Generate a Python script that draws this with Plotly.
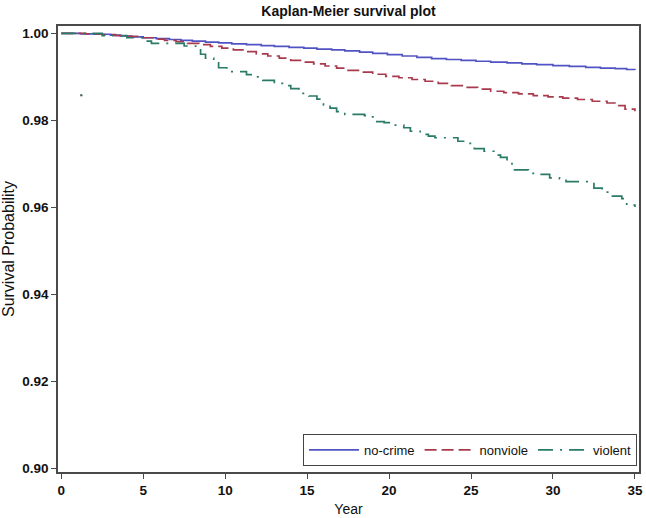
import plotly.graph_objects as go

# ---- data ----
nocrime_t = [0, 1.2, 2.0, 3.0, 3.6, 4.3, 5.0, 5.8, 6.6, 7.3, 8.0, 8.8, 9.6, 10.4, 11.3, 12.2, 13.0, 13.9, 14.8,
             15.6, 16.5, 17.3, 18.2, 19.0, 19.9, 20.8, 21.7, 22.6, 23.5, 24.4, 25.3, 26.2, 27.2, 28.1, 29.0,
             30.0, 31.0, 32.0, 32.9, 33.8, 34.5, 35.0]
nocrime_s = [1.0, 0.9999, 0.9998, 0.9996, 0.9994, 0.9992, 0.9990, 0.9988, 0.9986, 0.9984, 0.9982, 0.9980,
             0.9978, 0.9976, 0.9974, 0.9972, 0.9970, 0.9968, 0.9966, 0.9964, 0.9962, 0.9960, 0.9957, 0.9954,
             0.9951, 0.9948, 0.9945, 0.9942, 0.9940, 0.9938, 0.9936, 0.9934, 0.9932, 0.9930, 0.9928, 0.9926,
             0.9924, 0.9922, 0.9920, 0.9919, 0.9917, 0.9916]

nonviol_t = [0, 1.5, 2.5, 3.3, 4.0, 4.8, 5.6, 6.3, 7.0, 7.7, 8.4, 9.1, 9.8, 10.5, 11.2, 11.9, 12.6, 13.3, 14.0,
             14.7, 15.4, 16.1, 16.8, 17.5, 18.3, 19.0, 19.8, 20.6, 21.4, 22.2, 23.0, 23.8, 24.6, 25.4, 26.2,
             27.0, 27.9, 28.8, 29.7, 30.6, 31.5, 32.4, 33.3, 33.9, 34.4, 35.0]
nonviol_s = [1.0, 0.9999, 0.9997, 0.9995, 0.9993, 0.9990, 0.9987, 0.9984, 0.9981, 0.9977, 0.9974, 0.9970,
             0.9966, 0.9962, 0.9958, 0.9953, 0.9948, 0.9943, 0.9938, 0.9934, 0.9930, 0.9925, 0.9920, 0.9915,
             0.9911, 0.9906, 0.9901, 0.9898, 0.9894, 0.9890, 0.9885, 0.9880, 0.9876, 0.9872, 0.9867, 0.9864,
             0.9861, 0.9857, 0.9854, 0.9851, 0.9848, 0.9844, 0.9840, 0.9834, 0.9826, 0.9821]

violent_t = [0, 2.5, 4.0, 5.0, 5.5, 7.5, 8.2, 8.5, 8.8, 9.3, 9.6, 10.1, 11.3, 11.8, 12.3, 13.0, 13.6, 14.0,
             14.5, 15.1, 15.6, 16.0, 16.4, 16.8, 17.3, 18.5, 18.8, 19.2, 19.7, 20.3, 20.9, 21.3, 21.9, 22.4,
             22.8, 24.2, 24.7, 25.2, 25.8, 26.4, 26.8, 27.2, 27.5, 28.5, 29.2, 29.8, 30.4, 30.8, 32.5, 33.0,
             33.5, 34.2, 34.5, 35.0]
violent_s = [1.0, 0.9995, 0.9990, 0.9982, 0.9977, 0.9971, 0.9964, 0.9952, 0.9943, 0.9935, 0.9921, 0.9912,
             0.9905, 0.9900, 0.9892, 0.9885, 0.9880, 0.9873, 0.9862, 0.9856, 0.9849, 0.9835, 0.9828, 0.9820,
             0.9814, 0.9811, 0.9808, 0.9797, 0.9795, 0.9789, 0.9783, 0.9775, 0.9768, 0.9764, 0.9760, 0.9752,
             0.9747, 0.9735, 0.9729, 0.9720, 0.9715, 0.9705, 0.9686, 0.9678, 0.9676, 0.9668, 0.9666, 0.9659,
             0.9644, 0.9635, 0.9626, 0.9620, 0.9605, 0.9601]

stray_t = [1.22]
stray_s = [0.9858]

x_ticks = [0, 5, 10, 15, 20, 25, 30, 35]
y_ticks = [0.90, 0.92, 0.94, 0.96, 0.98, 1.00]
y_tick_text = ["0.90", "0.92", "0.94", "0.96", "0.98", "1.00"]

FONT = "Liberation Sans, Arial, sans-serif"
AXCOL = "#4a4a4a"

fig = go.Figure()
fig.add_trace(go.Scatter(x=nocrime_t, y=nocrime_s, mode="lines", name="no-crime", line_shape="hv",
                         line=dict(color="#5054C2", width=1.7)))
fig.add_trace(go.Scatter(x=nonviol_t, y=nonviol_s, mode="lines", name="nonviole", line_shape="hv",
                         line=dict(color="#A83A4E", width=1.7, dash="12px,5px")))
fig.add_trace(go.Scatter(x=violent_t, y=violent_s, mode="lines", name="violent", line_shape="hv",
                         line=dict(color="#2A7A68", width=1.7, dash="15px,7px,2px,7px")))
fig.add_trace(go.Scatter(x=stray_t, y=stray_s, mode="markers", showlegend=False, hoverinfo="skip",
                         marker=dict(color="#556B66", size=2.5)))

fig.update_layout(
    width=646, height=518,
    margin=dict(l=58, r=3, t=26, b=46),
    paper_bgcolor="white", plot_bgcolor="white",
    font=dict(family=FONT, color="#111111"),
    title=dict(text="<b>Kaplan-Meier survival plot</b>", x=0.5, xref="paper", y=1 - 11 / 518,
               yref="container", xanchor="center", yanchor="middle", font=dict(size=14, family=FONT)),
    legend=dict(orientation="h", x=0.9966, xanchor="right", y=0.0135, yanchor="bottom",
                bordercolor="#444444", borderwidth=1, bgcolor="white",
                font=dict(size=13, family=FONT), itemwidth=50, tracegroupgap=0),
)
fig.update_xaxes(range=[-0.2, 35.25], tickvals=x_ticks, ticks="outside", ticklen=5, tickwidth=1.2,
                 tickcolor=AXCOL, showline=True, linecolor=AXCOL, linewidth=1.5, mirror=True,
                 showgrid=False, zeroline=False, ticklabeloverflow="allow",
                 tickfont=dict(size=13.5, family=FONT, weight="bold"),
                 title=dict(text="Year", font=dict(size=14, family=FONT), standoff=7))
fig.update_yaxes(range=[0.89915, 1.0017], tickvals=y_ticks, ticktext=y_tick_text, ticks="outside", ticklen=5,
                 tickwidth=1.2, tickcolor=AXCOL, showline=True, linecolor=AXCOL, linewidth=1.5, mirror=True,
                 showgrid=False, zeroline=False,
                 tickfont=dict(size=13.5, family=FONT, weight="bold"),
                 title=dict(text="Survival Probability", font=dict(size=16, family=FONT), standoff=4))

fig.write_html("out.html", config={"displayModeBar": False},
               post_script="document.body.style.margin='0';")
